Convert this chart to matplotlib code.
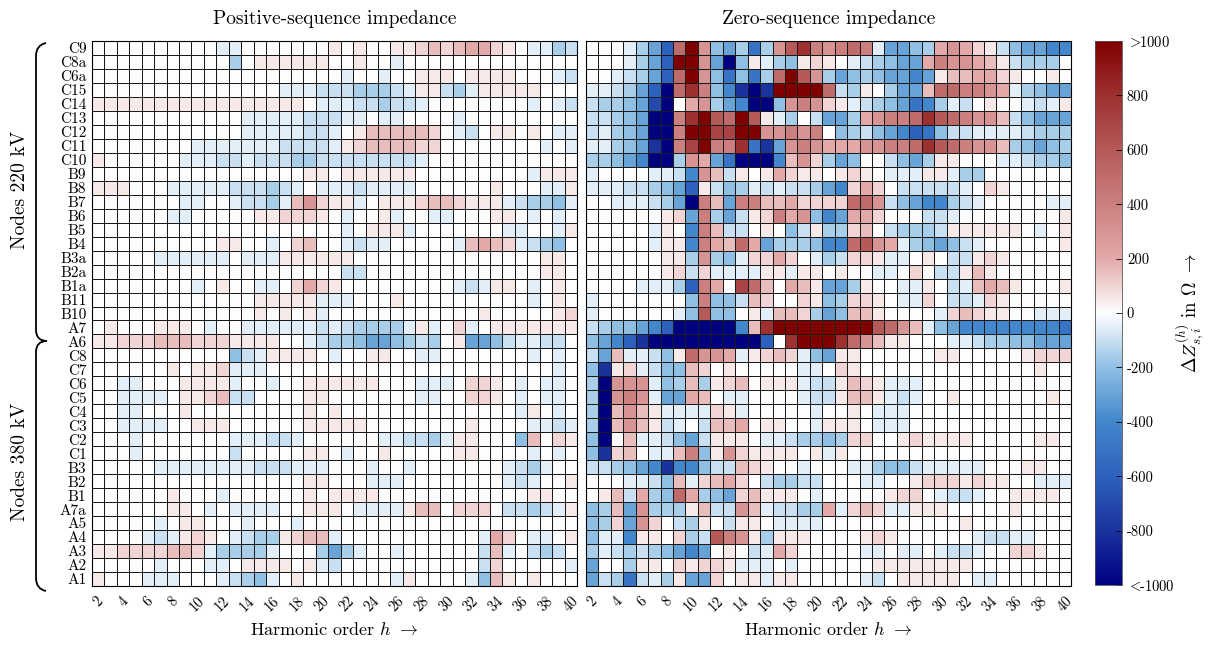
import numpy as np
import matplotlib
matplotlib.use("Agg")
import matplotlib.pyplot as plt
from matplotlib.colors import LinearSegmentedColormap
from matplotlib.path import Path
from matplotlib.patches import PathPatch

plt.rcParams['font.family'] = ['cmr10', 'DejaVu Serif']
plt.rcParams['mathtext.fontset'] = 'cm'
plt.rcParams['axes.unicode_minus'] = False
plt.rcParams['axes.formatter.use_mathtext'] = True

# node names, top to bottom
nodes = ['C9', 'C8a', 'C6a', 'C15', 'C14', 'C13', 'C12', 'C11', 'C10', 'B9',
         'B8', 'B7', 'B6', 'B5', 'B4', 'B3a', 'B2a', 'B1a', 'B11', 'B10',
         'A7', 'A6', 'C8', 'C7', 'C6', 'C5', 'C4', 'C3', 'C2', 'C1',
         'B3', 'B2', 'B1', 'A7a', 'A5', 'A4', 'A3', 'A2', 'A1']
harmonics = list(range(2, 41))

# one character per cell (h = 2..40), spaces ignored
# '.' = 0, A..K = +50 .. >1000, a..k = -50 .. <-1000 (in Ohm)
codes = 'ABCDEFGHIJK'
code_vals = [50, 100, 150, 200, 300, 400, 500, 600, 700, 800, 1100]

positive_seq = [
    "..........aa....... A .A..AABCBCDDBA.aacb",
    "...........c.AAAAAA . .A..a..............",
    "................... . a..a..AAA.AAAA...ab",
    "...............aaab b bcccbaAAbcaAAAAA...",
    "AAAAAAAAAAAAAAAAA.a a abbcbba........a.ab",
    "............aaaaabb b aa.aa....a.........",
    "............aaaaabb a .ACCCCCB.ab.AA.A.aa",
    "........aaaaaaabbbb a ABCCCCBB........a.a",
    "A......aaabbabbbccb b bbbbbba............",
    ".................AA . AAAAAA.........aAAA",
    "AAA...aaaaabbbcba.a a abaaaa......A...aaA",
    ".......aa..abbcaCEB A Aa.AAABCCBAAAabccda",
    "......aa.....AABBBA . a..Aa..aa...AA.a.a.",
    "................... . a.AAAa.......aa..aA",
    "..........AA..a.BC. . abaa.....aCDCBabcd.",
    ".....aaaaaa.aaaAAAA A A...............AA.",
    "................... . bb..............AA.",
    "........a.A..aa.BDB A .........abaAA.a.A.",
    ".............AAAAAa a a...A..........a.A.",
    ".............A.A.Aa . ...........A.....AB",
    ".A...AAA.a..aaaaaab a bccccaAa.Ba.AAAAAAA",
    "AABBBCCCBBBAAAA..ab c cdeedcbc.Aeedbaabb.",
    "...........dbaAAAA. a ..AA..aa.......a.a.",
    "......A.AABaaa..... . .................a.",
    "..aa...AAAAa..a..AA A AAA...aaa.BBA.a.aa.",
    "..aaaa.AABCbb....AA . ......aa..BBA.a.aa.",
    "..aa...A.........A. A ..............aA.a.",
    "..aaaa..AAA......AA A AA........A....aaba",
    "...a.......aaabba.. . ...aabbcaAA...dC.BA",
    "...a.......b.....AA . a..A.....AA....a.a.",
    ".....aaaaaaaabbbaaa . ..a..a.......abca..",
    ".................AA . ..aaa........aba..A",
    "......A...a......A. A AAA............AA..",
    "......AA.a.aaaa..AA A .aaaaACC.BBB.bbcbaA",
    ".....a.AA...a...a.. . ...................",
    "....abaABA.abccABCC a ...........aDB.aa.A",
    "AABBBBCCBacccca...c e ca..a......bCa.bcb.",
    ".....a...aa.AAAA.Aa b ...........bB.....a",
    "A...aaa...abcda.A.. . ....aA....adCA.A...",
]

zero_seq = [
    "...acehGKEdecgcEHJF E FGFaeedcDEDBAbdeeff",
    "...acehKKEekdAacdAB A .abcdeeDFEEDCAbccc.",
    "..abcehGKEdgdgcGKHE c edcdeefeACCDDBA..A.",
    "aabcehkGJFdfjkjKKKK G bcA.ceeCGGFFEDacdee",
    "bccdeik.DEcefkkdEFE B Aabcdegfcab.A..abaA",
    "bbcdekkFJKHGKHAac.b e ecDEFFGJHGFEECbdeee",
    "bacdekkFKKIIKKEEFEF . dcbdefhgdbbaaaabccc",
    "aacdejkFIKFFJgjeEFE D DDEEFFGJHGFEECcdedc",
    "ccdefkkcEDegkkkfCEB c ed..bdecAA...aabccd",
    "a....aabfECbA.ADBAA . ABA.aaaAAacc.......",
    "aaabbcdehAbdcababbc e fBDB.bbbbba.BA.....",
    "..aaabcekFCeFFCCDBB B BGGEbdeffcba.....aa",
    "......ABeFcebABFDEd f eDDB...bba........A",
    ".....aA.fFCbb.A.dbA c cBC.bcccbAAAAAA.a.A",
    ".....aAAfFDCGDecccd f fGHEDacdedba......A",
    "......AAcEcdaBBDB.a c bBBAaa.A.bbABA.....",
    "......ABbBaaaaAAaAA . A..aa.B.bbACA......",
    "....aaachFD.IGC.DCA e ecA..aaA.baCDCA...A",
    "a.......dFddbCB..BA d cBBA.aaB.bbaBA.....",
    "a......adHdd.AaCCBc e dCCA....aBCBAA..aaa",
    "bcddefhkkkkkfCJKKKK K KKKHGECadeffffffffg",
    "defhjkkkkkkkkkh.JKK K JGECAA...aabccddeee",
    "beCaabdAGEEDaABCBad e AA......AA.....ABBB",
    "djABabddCB.A.....aa . BA..............A..",
    "ckEEEadcCcABC.AAAab b ACBAaaa............",
    "ckEFEaeeDC.aa....ab b ACCAaba..A.......A.",
    "ckCECAaaaaBAa.....a . .A.aaa.............",
    "ckCECAba.bCCD.AA..a A AA.aaa.............",
    "dk.CaabdebAAA.aabcc d cBB..ABAAAA.....AA.",
    "djBC.aaCFdAEBAAAA.A a A..................",
    "bbcdefjffdbbCBA..a. . .aacddbaaaaa...AA..",
    "...aabdCaBCDB.bccbb . ..aa..ABBBABAA..aaa",
    ".ACbDcdGDcdeBCAAA.a . ....ABB.abba..AAAA.",
    "dcCeEcccACbbECabbcc D aBCBaaAAA.....A....",
    "dcBeEB.bcA.bAA.aaaa . ..........A........",
    "daafAA.BcbHFEAcAAA. . ..ABA......abbaa...",
    "cabcbcdefe.A.baDB.. . ..aa.aa.abba..BBA..",
    "e..cAA.BABBAaaa.a.. . ...AAAAAAAA........",
    "ebcgbacAeeB.AAaAA.. . ..ab.AAAAA.aa......",
]

cbar_ticks = [-1000, -800, -600, -400, -200, 0, 200, 400, 600, 800, 1000]
cbar_labels = [r'${<}\!\!$-1000', '-800', '-600', '-400', '-200', '0',
               '200', '400', '600', '800', r'${>}\!\!$1000']


def decode(rows):
    n = len(harmonics)
    lut = {'.': 0.0}
    for c, v in zip(codes, code_vals):
        lut[c] = v
        lut[c.lower()] = -v
    data = []
    for r in rows:
        r = r.replace(' ', '').ljust(n, '.')[:n]
        data.append([lut[c] for c in r])
    return np.array(data, dtype=float)


cmap = LinearSegmentedColormap.from_list('zdiff', [
    (0.0, (0.00, 0.00, 0.50)),
    (0.1, (0.10, 0.20, 0.62)),
    (0.2, (0.18, 0.38, 0.74)),
    (0.3, (0.26, 0.53, 0.80)),
    (0.4, (0.56, 0.75, 0.89)),
    (0.5, (1.00, 1.00, 1.00)),
    (0.6, (0.89, 0.66, 0.66)),
    (0.7, (0.80, 0.50, 0.50)),
    (0.8, (0.71, 0.35, 0.35)),
    (0.9, (0.62, 0.19, 0.19)),
    (1.0, (0.50, 0.00, 0.00))])

W, H = 1209, 646
fig = plt.figure(figsize=(W / 100, H / 100), dpi=100)

ax1 = fig.add_axes([92 / W, 60 / H, 485 / W, 545 / H])
ax2 = fig.add_axes([586 / W, 60 / H, 485 / W, 545 / H])
cax = fig.add_axes([1095 / W, 61 / H, 27 / W, 544 / H])

xe = np.arange(len(harmonics) + 1)
ye = np.arange(len(nodes) + 1)
tick_pos = [i + 0.5 for i, h in enumerate(harmonics) if h % 2 == 0]
tick_lab = [str(h) for h in harmonics if h % 2 == 0]

for ax, rows, title in [(ax1, positive_seq, 'Positive-sequence impedance'),
                        (ax2, zero_seq, 'Zero-sequence impedance')]:
    m = ax.pcolormesh(xe, ye, decode(rows), cmap=cmap, vmin=-1000, vmax=1000,
                      edgecolors='#1a1a1a', linewidth=0.6)
    ax.set_xlim(0, len(harmonics))
    ax.set_ylim(len(nodes), 0)
    ax.set_xticks(tick_pos)
    ax.set_xticklabels(tick_lab, rotation=45, fontsize=10.5)
    ax.tick_params(length=0, pad=6)
    ax.set_xlabel(r'Harmonic order $h$ $\rightarrow$', fontsize=13, labelpad=5)
    ax.set_title(title, fontsize=14, pad=12)
    for s in ax.spines.values():
        s.set_linewidth(0.8)

ax1.set_yticks(np.arange(len(nodes)) + 0.5)
ax1.set_yticklabels(nodes, fontsize=11)
ax1.tick_params(axis='y', pad=4)
ax2.set_yticks([])

cb = fig.colorbar(m, cax=cax, ticks=cbar_ticks)
cb.ax.set_yticklabels(cbar_labels, fontsize=10.5)
cb.ax.tick_params(direction='in', length=4, width=0.6)
cb.outline.set_linewidth(0.6)
cb.outline.set_edgecolor('#555555')
fig.text(1190 / W, 1 - 313 / H, r'$\Delta Z_{s,i}^{(h)}$ in $\Omega$ $\rightarrow$',
         rotation=90, ha='center', va='center', fontsize=13.5)

# voltage level braces
def fp(x, y):
    return (x / W, 1 - y / H)

verts = [fp(46, 43), fp(36, 45), fp(36, 56), fp(36, 330), fp(36, 341),
         fp(47, 341), fp(36, 341), fp(36, 352), fp(36, 578), fp(36, 589),
         fp(46, 591)]
path_codes = [Path.MOVETO, Path.CURVE3, Path.CURVE3, Path.LINETO, Path.CURVE3,
              Path.CURVE3, Path.CURVE3, Path.CURVE3, Path.LINETO, Path.CURVE3,
              Path.CURVE3]
fig.patches.append(PathPatch(Path(verts, path_codes), transform=fig.transFigure,
                             fill=False, lw=1.3, color='black'))
fig.text(20 / W, 1 - 190 / H, 'Nodes 220 kV', rotation=90, ha='center',
         va='center', fontsize=14)
fig.text(20 / W, 1 - 462 / H, 'Nodes 380 kV', rotation=90, ha='center',
         va='center', fontsize=14)

fig.savefig('out.png', dpi=100)
